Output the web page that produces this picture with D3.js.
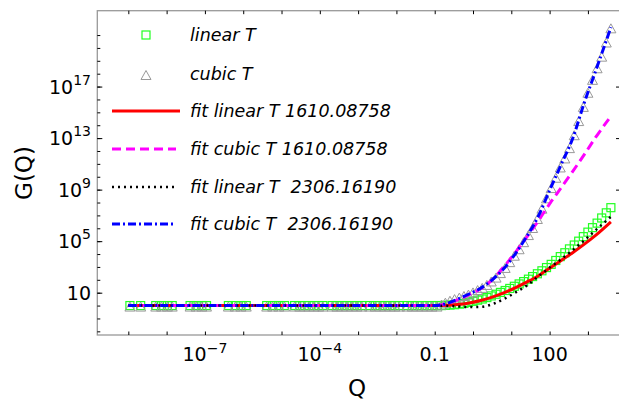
<!DOCTYPE html>
<html>
<head>
<meta charset="utf-8">
<title>G(Q)</title>
<style>
  body { margin: 0; background: #fff; }
  text { font-family: "DejaVu Sans", sans-serif; }
</style>
</head>
<body>
<script src="https://d3js.org/d3.v7.min.js"></script>
<script>
// data points
const markQ = [1.1e-9, 2.1e-9, 5.2e-9, 7.4e-9, 1.05e-8, 1.4e-8, 4.1e-8, 5.9e-8, 8.3e-8, 1.1e-7,
  4.1e-7, 6.2e-7, 8.7e-7, 1.2e-6, 4.1e-6, 5.9e-6, 8.5e-6, 1.2e-5,
  2.2e-5, 3e-5, 4e-5, 5.2e-5, 7.1e-5, 9.3e-5, 1.2e-4,
  2.1e-4, 2.8e-4, 3.8e-4, 5.1e-4, 6.9e-4, 9.3e-4, 1.26e-3,
  2e-3, 2.8e-3, 3.7e-3, 5e-3, 6.8e-3, 9.1e-3, 1.2e-2,
  1.9e-2, 2.6e-2, 3.5e-2, 4.7e-2, 6.3e-2, 8.5e-2, 0.115,
  0.15, 0.19, 0.25, 0.33, 0.44, 0.58, 0.76, 1, 1.32, 1.74, 2.3, 3.0, 4.0, 5.2, 6.9, 9.1,
  12, 16, 21, 28, 36, 48, 63, 83, 110, 145, 190, 250, 330, 440, 575, 760,
  1000, 1320, 1740, 2290, 3020, 3980];
const linT = [1, 1, 1, 1, 1, 1, 1, 1, 1, 1,
  1, 1, 1, 1, 1, 1, 1, 1,
  1, 1, 1, 1, 1, 1, 1,
  1, 1, 1, 1, 1, 1, 1,
  1, 1, 1, 1, 1, 1, 1,
  1, 1, 1, 1, 1, 1, 1,
  1.0, 1.05, 1.1, 1.17, 1.29, 1.48, 1.78, 2.14, 2.63, 3.24, 4.17, 5.62, 7.59, 10.5, 14.8, 21.4,
  31.6, 47.9, 72.4, 112, 178, 295, 501, 891, 1.58e3, 3.16e3, 6.31e3, 1.26e4, 2.51e4, 5.01e4, 1e5, 2.24e5,
  5.01e5, 1.12e6, 2.51e6, 6.31e6, 1.58e7, 3.98e7];
const cubT = [1, 1, 1, 1, 1, 1, 1, 1, 1, 1,
  1, 1, 1, 1, 1, 1, 1, 1,
  1, 1, 1, 1, 1, 1, 1,
  1, 1, 1, 1, 1, 1, 1,
  1, 1, 1, 1, 1, 1, 1,
  1, 1, 1, 1, 1, 1, 1,
  1.41, 2.0, 2.82, 3.8, 5.01, 6.61, 8.51, 12.6, 19.1, 28.2, 47.9, 89.1, 178, 398, 1e3, 2.82e3,
  8.91e3, 2.82e4, 1e5, 3.55e5, 1.26e6, 6.31e6, 3.98e7, 2.51e8, 1.58e9, 1e10, 6.31e10, 3.16e11, 2e12, 2e13, 2.51e14, 3.16e15,
  3.98e16, 3.98e17, 3.16e18, 2.51e19, 3.16e20, 3.98e21];

// fitted curves
const fitQ = [1e-9, 1e-3, 0.1, 0.2, 0.4, 0.79, 1.58, 3.16, 6.31, 12.6, 25.1, 50.1, 100, 200, 398, 794, 1585, 3981];
const fitLin1610 = [1, 1, 1, 1.05, 1.2, 1.6, 2.5, 4.5, 9.5, 24, 66, 200, 800, 3.2e3, 1.26e4, 5.6e4, 2.8e5, 3.16e6];
const fitCub1610 = [1, 1, 1, 1.41, 2.82, 7.08, 20, 100, 1e3, 1.26e4, 2e5, 3.55e6, 7.94e7, 1.41e9, 2.51e10, 5.01e11, 1.12e13, 5.01e14];
const fitLin2306 = [1, 1, 1, 0.95, 0.87, 0.76, 0.79, 1.26, 3.16, 10, 35.5, 178, 891, 3.98e3, 2e4, 1.12e5, 7.08e5, 7.94e6];
const fitCub2306 = [1, 1, 1, 1.41, 3.16, 7.94, 22.4, 100, 708, 1e4, 2.24e5, 7.94e6, 8.91e8, 8.91e10, 8.91e12, 5.01e15, 1.58e18, 3.98e21];

// ticks
const xTicks = [1e-9, 1e-8, 1e-7, 1e-6, 1e-5, 1e-4, 1e-3, 1e-2, 1e-1, 1, 10, 100, 1000];
const xLabelVals = [1e-7, 1e-4, 0.1, 100];
const xLabelText = [['10', '\u22127'], ['10', '\u22124'], ['0.1', ''], ['100', '']];
const yTicks = [1e-2, 1e-1, 1, 10, 1e2, 1e3, 1e4, 1e5, 1e6, 1e7, 1e8, 1e9, 1e10, 1e11, 1e12,
  1e13, 1e14, 1e15, 1e16, 1e17, 1e18, 1e19, 1e20, 1e21];
const yLabelVals = [10, 1e5, 1e9, 1e13, 1e17];
const yLabelText = [['10', ''], ['10', '5'], ['10', '9'], ['10', '13'], ['10', '17']];

const legendNames = ['linear T', 'cubic T', 'fit linear T 1610.08758', 'fit cubic T 1610.08758',
  'fit linear T  2306.16190', 'fit cubic T  2306.16190'];

const w = 619, h = 401;
const box = {left: 97.3, right: 621, top: 10.7, bottom: 335};

const svg = d3.select('body').append('svg')
  .attr('width', w).attr('height', h);

const x = d3.scaleLog().domain([Math.pow(10, -9.81), Math.pow(10, 3.864)]).range([box.left, box.right]);
const y = d3.scaleLog().domain([Math.pow(10, -2.284), Math.pow(10, 22.89)]).range([box.bottom, box.top]);

// frame
svg.append('rect')
  .attr('x', box.left).attr('y', box.top)
  .attr('width', box.right - box.left).attr('height', box.bottom - box.top)
  .attr('fill', 'none').attr('stroke', '#999').attr('stroke-width', 1.3);

function ticks(axis, tx, ty) {
  const g = svg.append('g').attr('transform', `translate(${tx},${ty})`).call(axis);
  g.select('.domain').remove();
  g.selectAll('line').attr('stroke', '#000').attr('stroke-width', 1);
  return g;
}
ticks(d3.axisBottom(x).tickValues(xTicks).tickSizeInner(-3.5).tickSizeOuter(0).tickFormat(''), 0, box.bottom);
ticks(d3.axisTop(x).tickValues(xTicks).tickSizeInner(-3.5).tickSizeOuter(0).tickFormat(''), 0, box.top);
ticks(d3.axisLeft(y).tickValues(yTicks).tickSizeInner(-3).tickSizeOuter(0).tickFormat(''), box.left, 0);
ticks(d3.axisLeft(y).tickValues(yLabelVals).tickSizeInner(-5).tickSizeOuter(0).tickFormat(''), box.left, 0);
ticks(d3.axisRight(y).tickValues(yLabelVals).tickSizeInner(-5).tickSizeOuter(0).tickFormat(''), box.right, 0);

// tick labels
const xl = svg.selectAll('.xlab').data(xLabelVals).enter().append('text')
  .attr('class', 'xlab')
  .attr('x', d => x(d)).attr('y', 361)
  .attr('text-anchor', 'middle').attr('font-size', 19);
xl.append('tspan').text((d, i) => xLabelText[i][0]);
xl.append('tspan').attr('dy', -8).attr('font-size', 14).text((d, i) => xLabelText[i][1]);

const yl = svg.selectAll('.ylab').data(yLabelVals).enter().append('text')
  .attr('class', 'ylab')
  .attr('x', 91).attr('y', d => y(d) + 7)
  .attr('text-anchor', 'end').attr('font-size', 19);
yl.append('tspan').text((d, i) => yLabelText[i][0]);
yl.append('tspan').attr('dy', -9).attr('font-size', 14).text((d, i) => yLabelText[i][1]);

// axis titles
svg.append('text').attr('x', 357).attr('y', 396).attr('text-anchor', 'middle')
  .attr('font-size', 23).text('Q');
svg.append('text').attr('transform', 'translate(32,173) rotate(-90)').attr('text-anchor', 'middle')
  .attr('font-size', 23).text('G(Q)');

// markers
const plot = svg.append('g');
function tri(cx, cy) {
  return `M${cx},${cy - 4.5}L${cx - 5},${cy + 4.5}L${cx + 5},${cy + 4.5}Z`;
}
plot.selectAll('.sq').data(markQ).enter().append('rect')
  .attr('x', d => x(d) - 4).attr('y', (d, i) => y(linT[i]) - 4)
  .attr('width', 8).attr('height', 8)
  .attr('fill', 'none').attr('stroke', '#22ff22').attr('stroke-width', 1.2);
plot.selectAll('.tr').data(markQ).enter().append('path')
  .attr('d', (d, i) => tri(x(d), y(cubT[i]) + 1))
  .attr('fill', 'none').attr('stroke', '#999').attr('stroke-width', 1);

// fit lines
const styles = [
  {vals: fitLin1610, color: '#ff0000', dash: null, width: 3},
  {vals: fitCub1610, color: '#ff00ff', dash: '9,5', width: 3},
  {vals: fitLin2306, color: '#000000', dash: '2,4', width: 2.5},
  {vals: fitCub2306, color: '#0000ff', dash: '8,3,2,3', width: 3}
];
styles.forEach(s => {
  const line = d3.line().x(d => x(d)).y((d, i) => y(s.vals[i])).curve(d3.curveMonotoneX);
  plot.append('path').datum(fitQ)
    .attr('d', line)
    .attr('fill', 'none').attr('stroke', s.color)
    .attr('stroke-width', s.width)
    .attr('stroke-dasharray', s.dash);
});

// legend
const rowY = [35, 74, 111, 149, 187, 224];
const lg = svg.append('g');
lg.append('rect').attr('x', 142).attr('y', rowY[0] - 4).attr('width', 8).attr('height', 8)
  .attr('fill', 'none').attr('stroke', '#22ff22').attr('stroke-width', 1.2);
lg.append('path').attr('d', tri(146, rowY[1] + 1))
  .attr('fill', 'none').attr('stroke', '#999').attr('stroke-width', 1);
styles.forEach((s, i) => {
  lg.append('line')
    .attr('x1', 112).attr('x2', i === 0 ? 180 : 176)
    .attr('y1', rowY[i + 2]).attr('y2', rowY[i + 2])
    .attr('stroke', s.color).attr('stroke-width', s.width)
    .attr('stroke-dasharray', s.dash);
});
lg.selectAll('text').data(legendNames).enter().append('text')
  .attr('x', 190).attr('y', (d, i) => rowY[i] + 6)
  .attr('font-size', 17.5).attr('font-style', 'italic')
  .style('white-space', 'pre')
  .attr('xml:space', 'preserve')
  .text(d => d);
</script>
</body>
</html>
